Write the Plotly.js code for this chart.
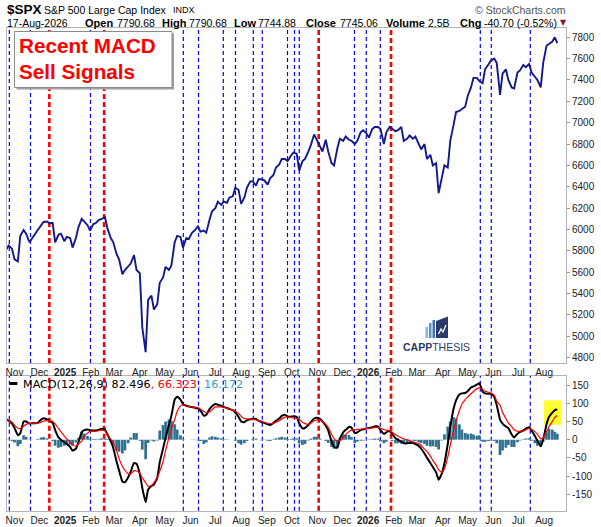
<!DOCTYPE html>
<html><head><meta charset="utf-8">
<script src="https://cdn.plot.ly/plotly-3.0.1.min.js"></script>
<style>html,body{margin:0;padding:0;background:#fff;}#chart{width:601px;height:527px;}</style>
</head><body><div id="chart"></div>
<script>
const dates = ['2024-10-22','2024-10-25','2024-10-29','2024-11-01','2024-11-05','2024-11-08','2024-11-12','2024-11-15','2024-11-19','2024-11-22','2024-11-26','2024-11-29','2024-12-03','2024-12-06','2024-12-10','2024-12-13','2024-12-17','2024-12-20','2024-12-24','2024-12-27','2024-12-31',
'2025-01-03','2025-01-07','2025-01-10','2025-01-14','2025-01-17','2025-01-21','2025-01-24','2025-01-28','2025-01-31','2025-02-04','2025-02-07','2025-02-11','2025-02-14','2025-02-18','2025-02-21','2025-02-25','2025-02-28','2025-03-04','2025-03-07','2025-03-11','2025-03-14','2025-03-18','2025-03-21','2025-03-25','2025-03-28','2025-04-01','2025-04-04','2025-04-08','2025-04-11','2025-04-15','2025-04-18','2025-04-22','2025-04-25','2025-04-29','2025-05-02','2025-05-06','2025-05-09','2025-05-13','2025-05-16','2025-05-20','2025-05-23','2025-05-27','2025-05-30','2025-06-03','2025-06-06','2025-06-10','2025-06-13','2025-06-17','2025-06-20','2025-06-24','2025-06-27','2025-07-01','2025-07-04','2025-07-08','2025-07-11','2025-07-15','2025-07-18','2025-07-22','2025-07-25','2025-07-29','2025-08-01','2025-08-05','2025-08-08','2025-08-12','2025-08-15','2025-08-19','2025-08-22','2025-08-26','2025-08-29','2025-09-02','2025-09-05','2025-09-09','2025-09-12','2025-09-16','2025-09-19','2025-09-23','2025-09-26','2025-09-30','2025-10-03','2025-10-07','2025-10-10','2025-10-14','2025-10-17','2025-10-21','2025-10-24','2025-10-28','2025-10-31','2025-11-04','2025-11-07','2025-11-11','2025-11-14','2025-11-18','2025-11-21','2025-11-25','2025-11-28','2025-12-02','2025-12-05','2025-12-09','2025-12-12','2025-12-16','2025-12-19','2025-12-23','2025-12-26','2025-12-30',
'2026-01-02','2026-01-06','2026-01-09','2026-01-13','2026-01-16','2026-01-20','2026-01-23','2026-01-27','2026-01-30','2026-02-03','2026-02-06','2026-02-10','2026-02-13','2026-02-17','2026-02-20','2026-02-24','2026-02-27','2026-03-03','2026-03-06','2026-03-10','2026-03-13','2026-03-17','2026-03-20','2026-03-24','2026-03-27','2026-03-31','2026-04-03','2026-04-07','2026-04-10','2026-04-14','2026-04-17','2026-04-21','2026-04-24','2026-04-28','2026-05-01','2026-05-05','2026-05-08','2026-05-12','2026-05-15','2026-05-19','2026-05-22','2026-05-26','2026-05-29','2026-06-02','2026-06-05','2026-06-09','2026-06-12','2026-06-16','2026-06-19','2026-06-23','2026-06-26','2026-06-30','2026-07-03','2026-07-07','2026-07-10','2026-07-14','2026-07-17','2026-07-21','2026-07-24','2026-07-28','2026-07-31','2026-08-04','2026-08-07','2026-08-11','2026-08-14','2026-08-17'];

const closes = [5810,5850,5820,5720,5700,5940,5995,5960,5880,5910,5960,5995,6035,6070,6075,6060,6060,5880,5950,5960,5890,
5930,5920,5830,5920,6020,6100,6070,6040,5990,6050,6060,6090,6100,6115,6010,5920,5880,5770,5720,5580,5620,5660,5680,5760,5620,5590,5080,4850,5340,5380,5250,5300,5500,5550,5650,5620,5660,5880,5940,5930,5830,5920,5910,5970,5990,6030,5980,5990,5970,6090,6170,6200,6260,6230,6260,6250,6300,6310,6390,6370,6240,6300,6390,6450,6450,6410,6470,6470,6460,6420,6480,6510,6580,6610,6660,6660,6640,6690,6720,6710,6550,6640,6660,6730,6790,6890,6840,6770,6730,6840,6730,6620,6600,6760,6850,6830,6870,6840,6830,6800,6830,6910,6930,6900,
6860,6940,6960,6960,6940,6800,6910,6960,6940,6920,6930,6960,6830,6850,6880,6850,6870,6800,6750,6800,6660,6700,6600,6620,6340,6490,6600,6580,6830,6980,7100,7110,7130,7150,7250,7330,7420,7420,7390,7370,7500,7540,7580,7600,7560,7260,7460,7500,7400,7330,7320,7470,7490,7540,7520,7550,7470,7430,7400,7330,7560,7720,7740,7760,7800,7745];

const macd = [56,52,44,32,12,18,50,50,44,45,45,46,55,59,56,52,46,26,6,0,-7,
-12,-20,-30,-25,-7,20,26,28,26,25,25,27,30,28,14,-4,-23,-60,-85,-115,-117,-103,-88,-64,-66,-94,-133,-172,-137,-127,-123,-105,-62,-24,5,40,65,110,118,110,98,93,91,89,88,86,80,66,68,84,92,98,96,93,90,87,84,81,75,62,50,48,53,56,57,57,52,48,46,42,40,46,52,58,65,68,64,63,64,62,45,31,32,40,48,58,60,57,50,38,25,-5,-20,-22,2,20,27,35,33,18,20,26,28,31,
32,34,36,36,26,16,20,24,16,4,0,-6,-10,-10,-9,-9,-12,-17,-25,-38,-50,-64,-75,-90,-110,-92,-65,-12,35,85,108,124,127,128,133,143,146,151,155,132,127,126,126,118,95,55,44,36,32,14,6,16,21,25,30,34,25,10,-3,-18,0,42,62,74,81,82.5];

const signal = [56,53,48,40,32,30,37,42,45,45,45,45,48,51,52,52,50,43,30,22,10,
2,-6,-15,-18,-12,-4,9,18,23,23,23,25,26,24,12,1,-9,-30,-52,-73,-84,-94,-94,-85,-86,-92,-105,-118,-128,-126,-118,-103,-87,-60,-30,5,28,55,78,92,96,93,91,90,89,88,84,78,74,76,82,90,90,90,89,86,84,81,78,72,64,58,57,56,55,54,52,50,47,45,44,45,48,52,57,62,62,61,59,58,55,48,44,42,45,52,54,54,50,42,34,15,3,-5,-3,5,14,22,26,27,28,29,30,31,
31,32,33,33,31,28,26,24,20,14,10,5,2,0,-3,-6,-8,-10,-16,-26,-33,-45,-57,-70,-83,-90,-80,-48,-15,25,52,80,97,110,117,126,132,140,142,138,133,130,128,122,105,95,75,58,46,36,27,23,23,24,27,31,28,22,15,3,5,22,36,50,61,66.3];

const hist = [1,-1,-4,-8,-18,-12,12,8,-1,0,0,2,6,7,4,0,-4,-17,-22,-20,-17,
-14,-14,-17,-8,5,22,17,10,3,2,2,2,4,4,2,-6,-14,-30,-33,-38,-30,-10,6,18,18,-3,-28,-54,-9,-2,-5,-2,25,40,50,55,52,42,28,12,2,0,0,-1,-1,-2,-4,-12,-8,6,9,8,6,4,1,1,0,0,-3,-10,-14,-10,-4,0,2,3,0,-2,-1,-3,-4,1,4,6,8,6,2,2,4,4,-10,-15,-12,-2,3,8,8,3,0,-4,-9,-20,-25,-20,5,14,13,13,7,-9,-6,-3,-2,0,
1,2,3,3,-5,-10,-6,0,-4,-10,-10,-11,-12,-10,-6,-3,-4,-7,-9,-12,-17,-19,-18,-20,-27,-2,15,36,50,62,58,42,28,18,16,17,14,11,12,-6,-6,-4,-2,-4,-10,-42,-30,-22,-15,-20,-20,-7,-2,1,3,4,-3,-10,-17,-20,-5,20,30,28,22,16.2];

const redSignalDates = ['2024-12-13','2025-02-17','2025-11-02 12:00','2026-01-28 15:00'];
const blueSignalDates = ['2024-10-25 18:00','2024-11-20 07:00','2025-01-31 13:00','2025-05-23 09:00','2025-06-10 17:00','2025-07-10 13:00','2025-07-25 06:00','2025-08-15 17:00','2025-08-26 13:00','2025-09-25 22:00','2025-10-04 08:00','2025-10-10 02:00','2025-12-15 14:00','2025-12-29 19:00','2026-01-15 17:00','2026-05-16 05:00','2026-05-29 10:00','2026-07-15 10:00'];

const monthTicks = ['2024-11-01','2024-12-01','2025-01-01','2025-02-01','2025-03-01','2025-04-01','2025-05-01','2025-06-01','2025-07-01','2025-08-01','2025-09-01','2025-10-01','2025-11-01','2025-12-01','2026-01-01','2026-02-01','2026-03-01','2026-04-01','2026-05-01','2026-06-01','2026-07-01','2026-08-01'];
const monthLabels = ['Nov','Dec','<b>2025</b>','Feb','Mar','Apr','May','Jun','Jul','Aug','Sep','Oct','Nov','Dec','<b>2026</b>','Feb','Mar','Apr','May','Jun','Jul','Aug'];
const priceTicks = [4800,5000,5200,5400,5600,5800,6000,6200,6400,6600,6800,7000,7200,7400,7600,7800];
const macdTicks = [-150,-100,-50,0,50,100,150];

const W = 601, H = 527;
const px = x => x / W;
const py = y => 1 - y / H;
const FONT = 'Liberation Sans, Arial, sans-serif';
const X_RANGE = ['2024-10-22 23:00', '2026-08-27 11:00'];
const X_DOMAIN = [px(7), px(566)];
const LINEC = '#b4b4b4';

function xAxis(anchor) {
  return {anchor: anchor, domain: X_DOMAIN, type: 'date', range: X_RANGE,
    tickmode: 'array', tickvals: monthTicks, ticktext: monthLabels, ticks: '',
    showgrid: false, zeroline: false, showline: true, linecolor: LINEC, linewidth: 1, mirror: true,
    tickfont: {family: FONT, size: 10, color: '#222'}, fixedrange: true};
}
function yAxis(anchor, domain, range, ticks) {
  return {anchor: anchor, domain: domain, range: range, side: 'right',
    tickmode: 'array', tickvals: ticks, ticktext: ticks.map(String),
    ticks: 'outside', ticklen: 3, tickcolor: '#999', showgrid: false, zeroline: false,
    showline: true, linecolor: LINEC, linewidth: 1, mirror: true,
    tickfont: {family: FONT, size: 10, color: '#222'}, fixedrange: true};
}

const traces = [
  {type: 'scatter', mode: 'lines', x: dates, y: closes, xaxis: 'x2', yaxis: 'y2',
   line: {color: '#13198c', width: 1.9}, hoverinfo: 'skip'},
  {type: 'bar', x: dates, y: hist, xaxis: 'x', yaxis: 'y', width: 3.4 * 86400000,
   marker: {color: '#2a6e8c', line: {color: 'rgba(255,255,255,0.35)', width: 0.4}}, hoverinfo: 'skip'},
  {type: 'scatter', mode: 'lines', x: dates, y: macd, xaxis: 'x', yaxis: 'y',
   line: {color: '#000', width: 2, shape: 'spline', smoothing: 0.4}, hoverinfo: 'skip'},
  {type: 'scatter', mode: 'lines', x: dates, y: signal, xaxis: 'x', yaxis: 'y',
   line: {color: '#ff0000', width: 1.2, shape: 'spline', smoothing: 0.4}, hoverinfo: 'skip'}
];

const shapes = [];
[['x', 'y domain'], ['x2', 'y2 domain']].forEach(function (p) {
  blueSignalDates.forEach(function (d) {
    shapes.push({type: 'line', xref: p[0], yref: p[1], x0: d, x1: d, y0: 0, y1: 1,
      line: {color: '#0000ff', width: 1.2, dash: '4px,3px'}, layer: 'below'});
  });
  redSignalDates.forEach(function (d) {
    shapes.push({type: 'line', xref: p[0], yref: p[1], x0: d, x1: d, y0: 0, y1: 1,
      line: {color: '#ff0000', width: 2.6, dash: '5px,3px'}, layer: 'below'});
  });
});
shapes.push({type: 'rect', xref: 'x', yref: 'y', x0: '2026-07-31 19:00', x1: '2026-08-22 07:00', y0: 41, y1: 108,
  fillcolor: '#ffff33', line: {width: 0}, layer: 'below'});
shapes.push({type: 'rect', xref: 'paper', yref: 'paper', x0: px(16.5), x1: px(174), y0: py(89.5), y1: py(33.5),
  fillcolor: '#a0a0a0', line: {width: 0}, layer: 'above'});
shapes.push({type: 'rect', xref: 'paper', yref: 'paper', x0: px(14.5), x1: px(172), y0: py(87.5), y1: py(31.5),
  fillcolor: '#ffffff', line: {color: '#8a8a8a', width: 1}, layer: 'above'});
shapes.push({type: 'line', xref: 'paper', yref: 'paper', x0: px(10), x1: px(17.3), y0: py(383.5), y1: py(383.5),
  line: {color: '#000', width: 3}, layer: 'above'});
shapes.push({type: 'rect', xref: 'paper', yref: 'paper', x0: px(425.5), x1: px(428), y0: py(338), y1: py(327), fillcolor: '#8db3e2', line: {width: 0}, layer: 'above'});
shapes.push({type: 'rect', xref: 'paper', yref: 'paper', x0: px(429), x1: px(431.5), y0: py(338), y1: py(323), fillcolor: '#5b8fd0', line: {width: 0}, layer: 'above'});
shapes.push({type: 'rect', xref: 'paper', yref: 'paper', x0: px(432.5), x1: px(435), y0: py(338), y1: py(320), fillcolor: '#3f70b5', line: {width: 0}, layer: 'above'});
shapes.push({type: 'path', xref: 'paper', yref: 'paper',
  path: 'M ' + px(436) + ' ' + py(338) + ' L ' + px(448) + ' ' + py(338) + ' L ' + px(448) + ' ' + py(316.5) + ' L ' + px(436) + ' ' + py(321) + ' Z',
  fillcolor: '#2b3a6b', line: {width: 0}, layer: 'above'});
shapes.push({type: 'path', xref: 'paper', yref: 'paper',
  path: 'M ' + px(438.5) + ' ' + py(334) + ' L ' + px(441) + ' ' + py(329) + ' L ' + px(443) + ' ' + py(332) + ' L ' + px(446) + ' ' + py(325),
  line: {color: '#ffffff', width: 1.3}, layer: 'above'});

function ann(text, x, y, size, opts) {
  return Object.assign({text: text, xref: 'paper', yref: 'paper', x: px(x), y: py(y), xanchor: 'left', yanchor: 'middle',
    showarrow: false, borderpad: 0, font: {family: FONT, size: size, color: '#000'}}, opts || {});
}
const annotations = [
  ann('<b>$SPX</b>', 6, 9.5, 13.5),
  ann('S&P 500 Large Cap Index', 43, 10, 10.5),
  ann('INDX', 172, 10, 9),
  ann('© StockCharts.com', 567, 9.5, 10.5, {xanchor: 'right', font: {family: FONT, size: 10.5, color: '#555'}}),
  ann('17-Aug-2026', 6, 23, 10.5),
  ann('<b>Open</b>', 84, 23, 11),
  ann('7790.68', 116, 23, 10.5),
  ann('<b>High</b>', 161, 23, 11),
  ann('7790.68', 188, 23, 10.5),
  ann('<b>Low</b>', 233, 23, 11),
  ann('7744.88', 257, 23, 10.5),
  ann('<b>Close</b>', 305, 23, 11),
  ann('7745.06', 339, 23, 10.5),
  ann('<b>Volume</b>', 385, 23, 11),
  ann('2.5B', 427, 23, 10.5),
  ann('<b>Chg</b>', 459, 23, 11),
  ann('-40.70 (-0.52%)', 483, 23, 10.5),
  ann('▼', 559, 22.5, 8, {font: {family: 'DejaVu Sans', size: 8, color: '#8b1538'}}),
  ann('<b>Recent MACD</b>', 17.5, 45.5, 20.7, {font: {family: FONT, size: 20.7, color: '#ff0000'}}),
  ann('<b>Sell Signals</b>', 17.5, 71.5, 20.7, {font: {family: FONT, size: 20.7, color: '#ff0000'}}),
  ann('MACD(12,26,9) 82.496<span style="color:#ff0000">, 66.323</span><span style="color:#3399cc">, 16.172</span>', 21.5, 384, 11.2,
      {font: {family: 'DejaVu Sans, Verdana, sans-serif', size: 11.2, color: '#000'}}),
  ann('<b>CAPP</b>THESIS', 436, 346.5, 10.5, {xanchor: 'center', font: {family: FONT, size: 10.5, color: '#2b3a66'}})
];

const layout = {
  width: W, height: H, margin: {l: 0, r: 0, t: 0, b: 0, pad: 0},
  paper_bgcolor: '#ffffff', plot_bgcolor: '#ffffff', showlegend: false, bargap: 0,
  font: {family: FONT, size: 10, color: '#222'},
  xaxis: xAxis('y'),
  yaxis: yAxis('x', [py(510.7), py(376)], [-195, 174.7], macdTicks),
  xaxis2: xAxis('y2'),
  yaxis2: yAxis('x2', [py(363), py(28)], [4749, 7887], priceTicks),
  shapes: shapes, annotations: annotations
};

Plotly.newPlot('chart', traces, layout, {staticPlot: true, displayModeBar: false});
</script>
</body></html>
